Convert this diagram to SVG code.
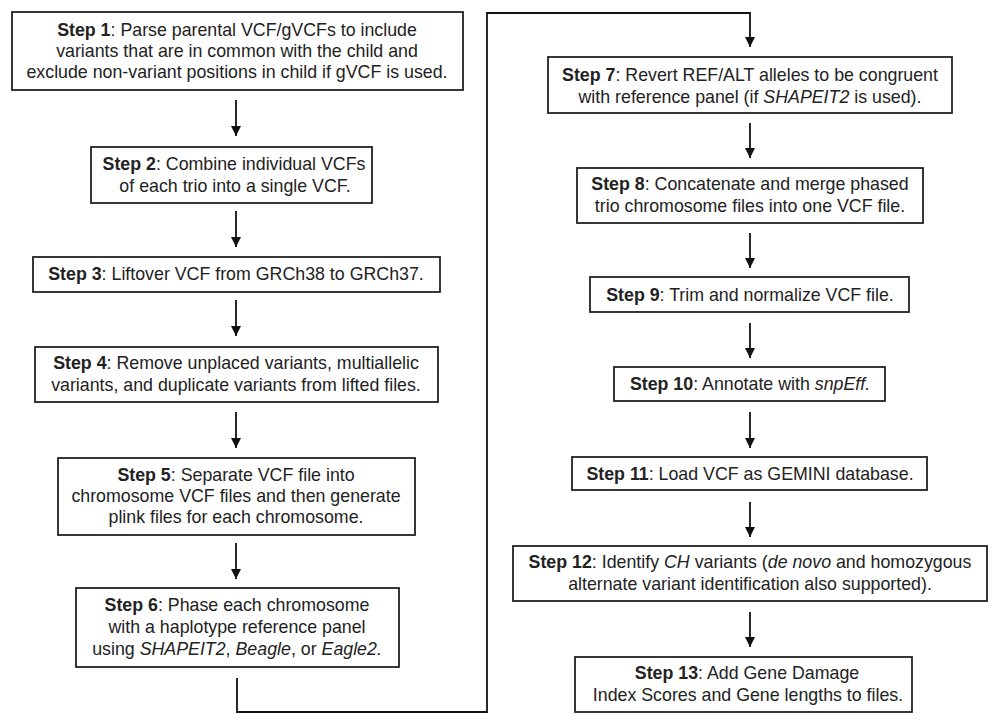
<svg xmlns="http://www.w3.org/2000/svg" width="1000" height="727" viewBox="0 0 1000 727">
<defs>
<marker id="ah" markerUnits="userSpaceOnUse" markerWidth="10" markerHeight="12" refX="10" refY="5" orient="auto">
<path d="M0,0 L10,5 L0,10 z" fill="#111"/>
</marker>
<style>
.box{fill:#fff;stroke:#222;stroke-width:1.8}
text{font-family:"Liberation Sans",Arial,sans-serif;font-size:17.8px;fill:#222;text-anchor:middle}
.b{font-weight:bold}
.i{font-style:italic}
.c{fill:none;stroke:#111;stroke-width:1.8}
</style>
</defs>
<rect width="1000" height="727" fill="#fff"/>
<g id="connectors">
<line class="c" x1="236" y1="100" x2="236" y2="136" marker-end="url(#ah)"/>
<line class="c" x1="236" y1="211" x2="236" y2="247" marker-end="url(#ah)"/>
<line class="c" x1="236" y1="300" x2="236" y2="336" marker-end="url(#ah)"/>
<line class="c" x1="236" y1="412" x2="236" y2="448" marker-end="url(#ah)"/>
<line class="c" x1="236" y1="543" x2="236" y2="579" marker-end="url(#ah)"/>
<polyline class="c" points="237,678 237,712 487,712 487,13 750,13 750,47" marker-end="url(#ah)"/>
<line class="c" x1="750" y1="123" x2="750" y2="158" marker-end="url(#ah)"/>
<line class="c" x1="750" y1="233" x2="750" y2="268" marker-end="url(#ah)"/>
<line class="c" x1="750" y1="323" x2="750" y2="358" marker-end="url(#ah)"/>
<line class="c" x1="750" y1="412" x2="750" y2="448" marker-end="url(#ah)"/>
<line class="c" x1="750" y1="502" x2="750" y2="537" marker-end="url(#ah)"/>
<line class="c" x1="750" y1="612" x2="750" y2="647" marker-end="url(#ah)"/>
</g>
<g id="step1">
<rect class="box" x="12" y="12" width="451" height="78"/>
<text x="237" y="36"><tspan class="b">Step 1</tspan>: Parse parental VCF/gVCFs to include</text>
<text x="237" y="57">variants that are in common with the child and</text>
<text x="237" y="78">exclude non-variant positions in child if gVCF is used.</text>
</g>
<g id="step2">
<rect class="box" x="91" y="147" width="281" height="56"/>
<text x="234" y="170"><tspan class="b">Step 2</tspan>: Combine individual VCFs</text>
<text x="235" y="192">of each trio into a single VCF.</text>
</g>
<g id="step3">
<rect class="box" x="33" y="257" width="407" height="35"/>
<text x="236" y="280"><tspan class="b">Step 3</tspan>: Liftover VCF from GRCh38 to GRCh37.</text>
</g>
<g id="step4">
<rect class="box" x="35" y="347" width="403" height="55"/>
<text x="236" y="369"><tspan class="b">Step 4</tspan>: Remove unplaced variants, multiallelic</text>
<text x="236" y="391">variants, and duplicate variants from lifted files.</text>
</g>
<g id="step5">
<rect class="box" x="58" y="458" width="357" height="77"/>
<text x="236" y="481"><tspan class="b">Step 5</tspan>: Separate VCF file into</text>
<text x="236" y="502">chromosome VCF files and then generate</text>
<text x="236" y="523">plink files for each chromosome.</text>
</g>
<g id="step6">
<rect class="box" x="76" y="588" width="323" height="79"/>
<text x="237" y="611"><tspan class="b">Step 6</tspan>: Phase each chromosome</text>
<text x="237" y="633">with a haplotype reference panel</text>
<text x="237" y="655">using <tspan class="i">SHAPEIT2</tspan>, <tspan class="i">Beagle</tspan>, or <tspan class="i">Eagle2.</tspan></text>
</g>
<g id="step7">
<rect class="box" x="548" y="57" width="404" height="56"/>
<text x="750" y="81"><tspan class="b">Step 7</tspan>: Revert REF/ALT alleles to be congruent</text>
<text x="750" y="103">with reference panel (if <tspan class="i">SHAPEIT2</tspan> is used).</text>
</g>
<g id="step8">
<rect class="box" x="577" y="168" width="346" height="55"/>
<text x="750" y="190"><tspan class="b">Step 8</tspan>: Concatenate and merge phased</text>
<text x="750" y="212">trio chromosome files into one VCF file.</text>
</g>
<g id="step9">
<rect class="box" x="590" y="277" width="319" height="35"/>
<text x="750" y="301"><tspan class="b">Step 9</tspan>: Trim and normalize VCF file.</text>
</g>
<g id="step10">
<rect class="box" x="614" y="367" width="271" height="34"/>
<text x="750" y="390"><tspan class="b">Step 10</tspan>: Annotate with <tspan class="i">snpEff.</tspan></text>
</g>
<g id="step11">
<rect class="box" x="572" y="457" width="355" height="33"/>
<text x="750" y="480"><tspan class="b">Step 11</tspan>: Load VCF as GEMINI database.</text>
</g>
<g id="step12">
<rect class="box" x="513" y="546" width="474" height="55"/>
<text x="750" y="568"><tspan class="b">Step 12</tspan>: Identify <tspan class="i">CH</tspan> variants (<tspan class="i">de novo</tspan> and homozygous</text>
<text x="750" y="590">alternate variant identification also supported).</text>
</g>
<g id="step13">
<rect class="box" x="575" y="657" width="337" height="55"/>
<text x="747" y="679"><tspan class="b">Step 13</tspan>: Add Gene Damage</text>
<text x="748" y="701">Index Scores and Gene lengths to files.</text>
</g>
</svg>
